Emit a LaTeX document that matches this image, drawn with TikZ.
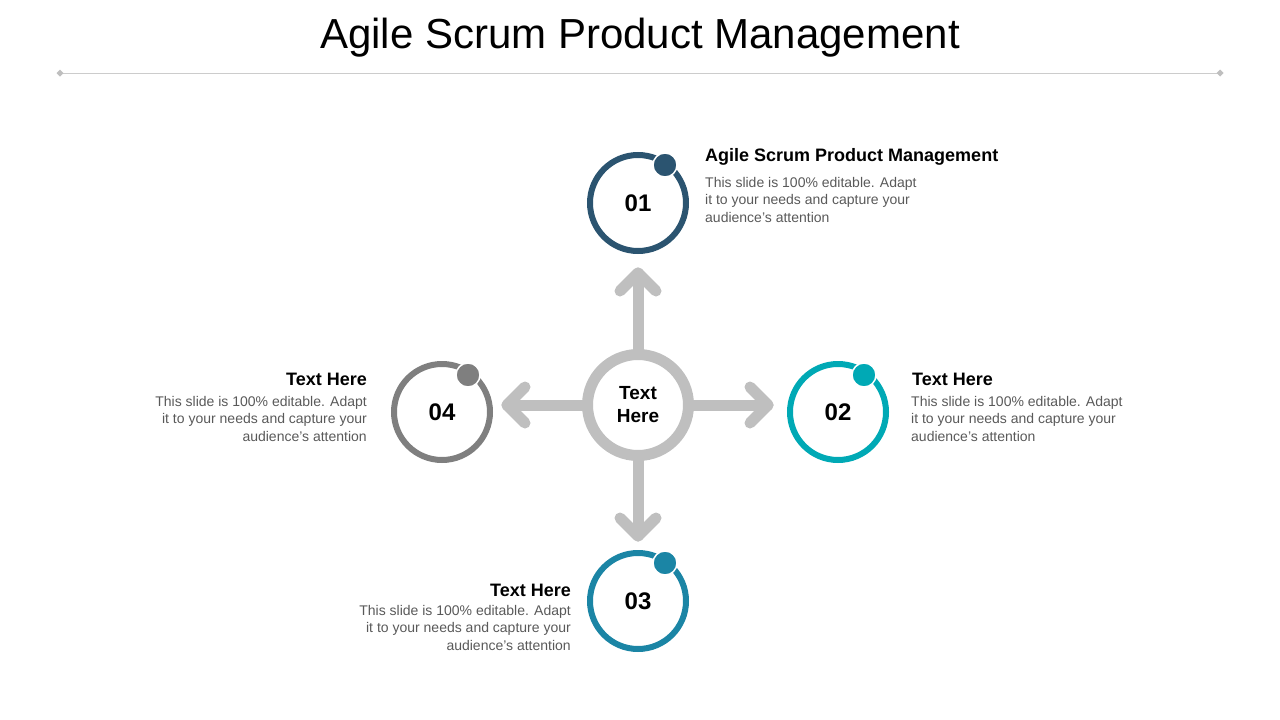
\documentclass[tikz,border=0pt]{standalone}
\usepackage{fontspec}
\setmainfont{Liberation Sans}
\definecolor{c1}{HTML}{2B5470}
\definecolor{c2}{HTML}{00A9B5}
\definecolor{c3}{HTML}{1B85A5}
\definecolor{c4}{HTML}{7F7F7F}
\definecolor{gr}{HTML}{BFBFBF}
\definecolor{bd}{HTML}{595959}
\tikzset{
 ring/.style={circle,draw=#1,line width=6pt,minimum size=96pt,inner sep=0pt,font=\bfseries\fontsize{24}{24}\selectfont},
 dot/.style={circle,fill=#1,draw=white,line width=1.5pt,minimum size=24pt,inner sep=0pt},
 arr/.style={draw=gr,line width=11pt,line cap=round,line join=round},
 head/.style={font=\bfseries\fontsize{18}{20}\selectfont,inner sep=0pt},
 body/.style={font=\fontsize{14}{17.5}\selectfont,text=bd,inner sep=0pt,align=#1},
}
\begin{document}
\begin{tikzpicture}[x=1pt,y=-1pt]
\useasboundingbox (0,0) rectangle (1280,720);
\node[font=\fontsize{42}{42}\selectfont] (title) at (640,38) {Agile Scrum Product Management};
\coordinate (l1) at (60,73); \coordinate (l2) at (1220,73);
\draw[gray!40,line width=0.6pt] (l1) -- (l2);
\fill[gray!50] (l1) ++(-3.5,0) -- ++(3.5,-3.5) -- ++(3.5,3.5) -- ++(-3.5,3.5) -- cycle;
\fill[gray!50] (l2) ++(-3.5,0) -- ++(3.5,-3.5) -- ++(3.5,3.5) -- ++(-3.5,3.5) -- cycle;
% arrows
\coordinate (tu) at (638,273); \coordinate (td) at (638,536);
\coordinate (tl) at (507,405); \coordinate (tr) at (768,405);
\draw[arr] (638,405) -- (tu); \draw[arr] (620,291) -- (tu) -- (656,291);
\draw[arr] (638,405) -- (td); \draw[arr] (620,518) -- (td) -- (656,518);
\draw[arr] (638,405) -- (tl); \draw[arr] (525,387) -- (tl) -- (525,423);
\draw[arr] (638,405) -- (tr); \draw[arr] (750,387) -- (tr) -- (750,423);
\node[circle,draw=gr,fill=white,line width=11pt,minimum size=101pt,align=center,font=\bfseries\fontsize{19}{23}\selectfont] (c) at (638,405) {Text\\Here};
% rings
\node[ring=c1] (n1) at (638,203) {01};
\node[dot=c1] (d1) at (665,165) {};
\node[ring=c2] (n2) at (838,412) {02};
\node[dot=c2] (d2) at (864,375) {};
\node[ring=c3] (n3) at (638,601) {03};
\node[dot=c3] (d3) at (665,563) {};
\node[ring=c4] (n4) at (442,412) {04};
\node[dot=c4] (d4) at (468,375) {};
% texts
\node[head,anchor=west] (h1) at (705,157) {Agile Scrum Product Management};
\node[body=left,anchor=north west] (b1) at (705,177) {This slide is 100\% editable. Adapt\\it to your needs and capture your\\audience's attention};
\node[head,anchor=west] (h2) at (912,379) {Text Here};
\node[body=left,anchor=north west] (b2) at (911,396) {This slide is 100\% editable. Adapt\\it to your needs and capture your\\audience's attention};
\node[head,anchor=east] (h4) at (367,379) {Text Here};
\node[body=right,anchor=north east] (b4) at (367,396) {This slide is 100\% editable. Adapt\\it to your needs and capture your\\audience's attention};
\node[head,anchor=east] (h3) at (571,590) {Text Here};
\node[body=right,anchor=north east] (b3) at (571,605) {This slide is 100\% editable. Adapt\\it to your needs and capture your\\audience's attention};
\end{tikzpicture}
\end{document}
